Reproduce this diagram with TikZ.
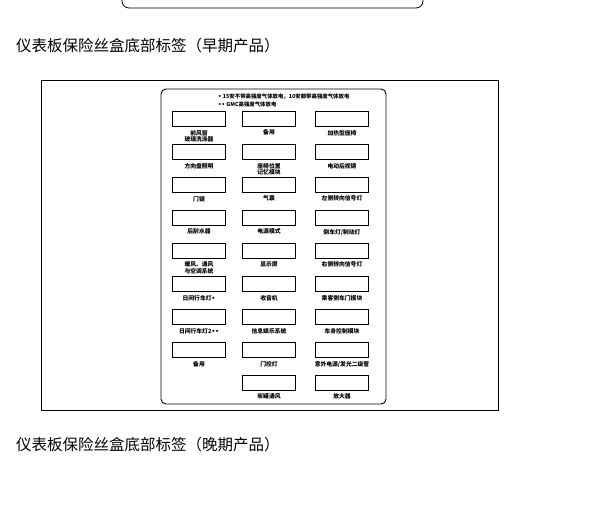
\documentclass[tikz,border=0pt]{standalone}
\usepackage{fontspec}
\setmainfont{Noto Sans CJK SC}
\newfontfamily\dv{DejaVu Sans}
\newcommand\bu{{\dv •}}
\begin{document}
\begin{tikzpicture}[x=1pt,y=-1pt,
  fuse/.style={draw,line width=0.8pt,minimum width=53pt,minimum height=15pt,inner sep=0,anchor=north},
  lab/.style={font=\fontsize{5.8}{6.4}\selectfont\bfseries,align=center,inner sep=0,anchor=north},
  ttl/.style={font=\fontsize{15.5}{17}\selectfont,anchor=west,inner sep=0}]
\useasboundingbox (0,0) rectangle (601,517);
\draw[line width=0.8pt,rounded corners=7pt] (122,-20) -- (122,8) -- (423,8) -- (423,-20);
\node[ttl] (t1) at (16,46) {仪表板保险丝盒底部标签（早期产品）};
\node[ttl] (t2) at (16,445) {仪表板保险丝盒底部标签（晚期产品）};
\draw[line width=0.7pt] (41,80) rectangle (498,410);
\draw[line width=0.9pt,rounded corners=5pt] (161,89) rectangle (386,404);
\node[lab,anchor=west,font=\fontsize{5.4}{6}\selectfont\bfseries] (n1) at (218,97) {\bu\ 15安不带高强度气体放电，10安都带高强度气体放电};
\node[lab,anchor=west,font=\fontsize{5.4}{6}\selectfont\bfseries] (n2) at (218,104) {\bu\bu\ GMC高强度气体放电};
\newcommand\fz[4]{\node[fuse] (f#1#2) at (#3,{111+33*(#2-1)}) {};
  \node[lab] (l#1#2) at ([yshift=-3pt]f#1#2.south) {#4};}
\fz{1}{1}{199}{前风窗\\玻璃洗涤器}
\fz{2}{1}{269}{备用}
\fz{3}{1}{342}{加热型座椅}
\fz{1}{2}{199}{方向盘照明}
\fz{2}{2}{269}{座椅位置\\记忆模块}
\fz{3}{2}{342}{电动后视镜}
\fz{1}{3}{199}{门锁}
\fz{2}{3}{269}{气囊}
\fz{3}{3}{342}{左侧转向信号灯}
\fz{1}{4}{199}{后刮水器}
\fz{2}{4}{269}{电源模式}
\fz{3}{4}{342}{倒车灯/制动灯}
\fz{1}{5}{199}{暖风、通风\\与空调系统}
\fz{2}{5}{269}{显示屏}
\fz{3}{5}{342}{右侧转向信号灯}
\fz{1}{6}{199}{日间行车灯\bu}
\fz{2}{6}{269}{收音机}
\fz{3}{6}{342}{乘客侧车门模块}
\fz{1}{7}{199}{日间行车灯2\bu\bu}
\fz{2}{7}{269}{信息娱乐系统}
\fz{3}{7}{342}{车身控制模块}
\fz{1}{8}{199}{备用}
\fz{2}{8}{269}{门控灯}
\fz{3}{8}{342}{意外电源/发光二级管}
\fz{2}{9}{269}{炭罐通风}
\fz{3}{9}{342}{放大器}
\end{tikzpicture}
\end{document}
